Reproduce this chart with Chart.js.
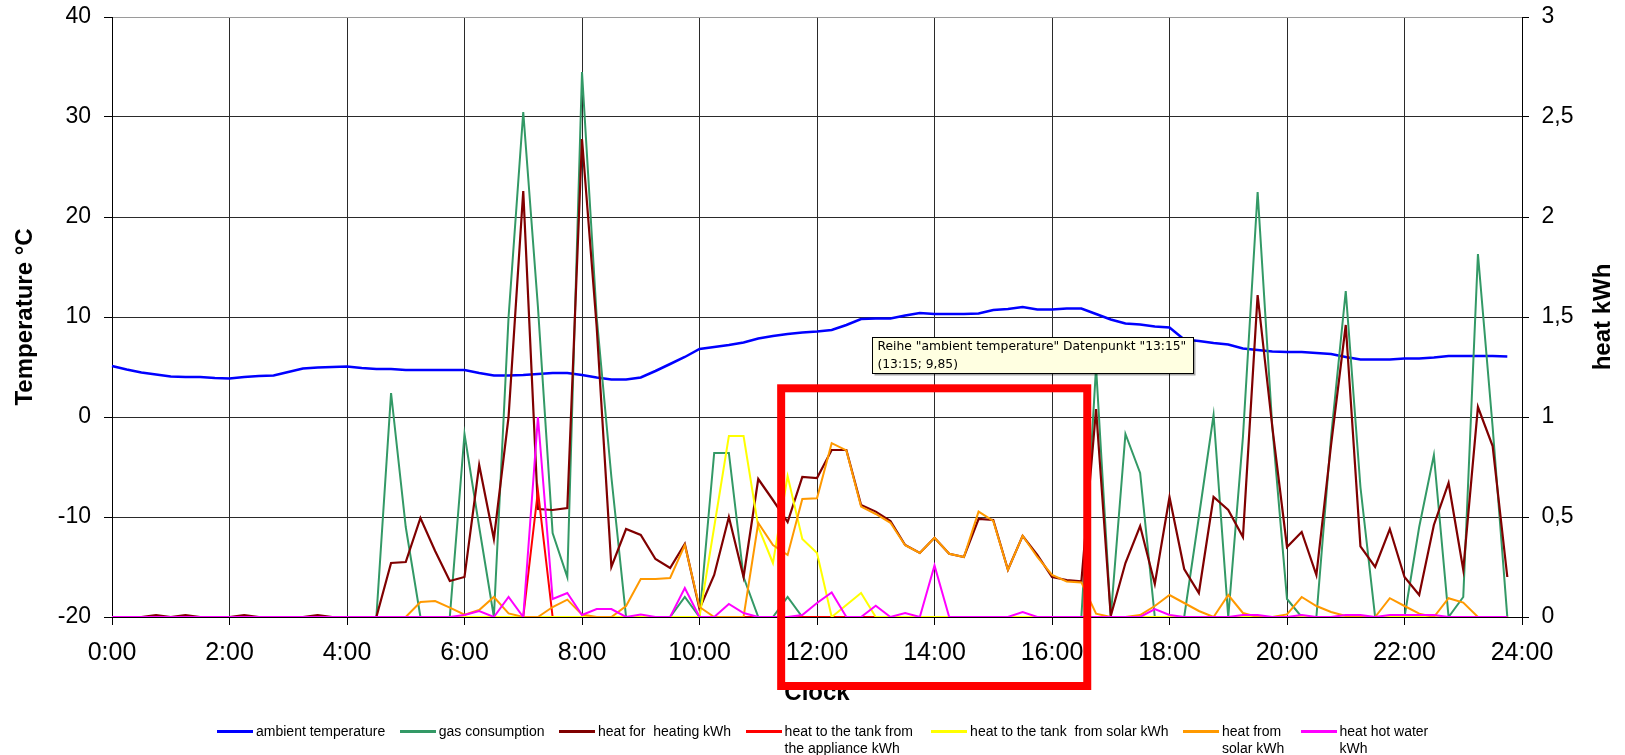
<!DOCTYPE html>
<html>
<head>
<meta charset="utf-8">
<script src="https://cdn.jsdelivr.net/npm/chart.js@4.4.1/dist/chart.umd.min.js"></script>
<style>
  html, body { margin: 0; padding: 0; background: #fff; }
  #wrap { position: relative; width: 1625px; height: 755px; overflow: hidden; background: #fff; }
  #c { position: absolute; left: 0; top: 0; width: 1625px; height: 755px; }
  #legend { position: absolute; left: 217px; top: 723px; display: flex; align-items: flex-start; gap: 14.5px;
            font: 14px/16.5px "Liberation Sans", Arial, sans-serif; color: #000; }
  .item { display: flex; align-items: flex-start; }
  .swatch { width: 36px; height: 3px; margin-top: 7px; margin-right: 3px; flex: none; }
  .txt { white-space: pre-wrap; }
</style>
</head>
<body>
<div id="wrap">
  <canvas id="c" width="1625" height="755"></canvas>
  <div id="legend"></div>
</div>
<script>
// ---------- categories & tick labels ----------
const timeLabels = [];
for (let h = 0; h <= 24; h++) {
  for (const m of ['00', '15', '30', '45']) {
    timeLabels.push(h + ':' + m);
    if (h === 24) break;
  }
}
const xTickLabels = ['0:00','2:00','4:00','6:00','8:00','10:00','12:00','14:00','16:00','18:00','20:00','22:00','24:00'];
const leftTicks  = [-20, -10, 0, 10, 20, 30, 40];
const rightTicks = [0, 0.5, 1, 1.5, 2, 2.5, 3];

const seriesNames = [
  'ambient temperature',
  'gas consumption',
  'heat for  heating kWh',
  'heat to the tank from the appliance kWh',
  'heat to the tank  from solar kWh',
  'heat from solar kWh',
  'heat hot water kWh'
];

// ---------- series values (15-minute steps, 0:00 .. 23:45) ----------
const ambientTemp = [
  5.1, 4.75, 4.45, 4.25, 4.05, 4.0, 4.0, 3.9,
  3.85, 4.0, 4.1, 4.15, 4.5, 4.85, 4.95, 5.0,
  5.05, 4.9, 4.8, 4.8, 4.7, 4.7, 4.7, 4.7,
  4.7, 4.4, 4.15, 4.15, 4.2, 4.3, 4.4, 4.4,
  4.2, 3.95, 3.75, 3.75, 3.95, 4.6, 5.3, 6.0,
  6.8, 7.0, 7.2, 7.45, 7.85, 8.1, 8.3, 8.45,
  8.55, 8.7, 9.2, 9.8, 9.85, 9.85, 10.15, 10.4,
  10.3, 10.3, 10.3, 10.35, 10.7, 10.8, 11.0, 10.75,
  10.75, 10.85, 10.85, 10.3, 9.75, 9.35, 9.25, 9.05,
  8.95, 7.75, 7.6, 7.4, 7.25, 6.85, 6.7, 6.55,
  6.5, 6.5, 6.4, 6.3, 6.0, 5.75, 5.75, 5.75,
  5.85, 5.85, 5.95, 6.1, 6.1, 6.1, 6.1, 6.05
];
const gasConsumption = [
  0, 0, 0, 0, 0, 0, 0, 0,
  0, 0, 0, 0, 0, 0, 0, 0,
  0, 0, 0, 1.12, 0.45, 0, 0, 0,
  0.915, 0.45, 0, 1.5, 2.525, 1.55, 0.42, 0.2,
  2.725, 1.5, 0.7, 0, 0, 0, 0, 0.1,
  0, 0.82, 0.82, 0.2, 0, 0, 0.1, 0,
  0, 0, 0, 0, 0, 0, 0, 0,
  0, 0, 0, 0, 0, 0, 0, 0,
  0, 0, 0, 1.25, 0, 0.915, 0.72, 0,
  0, 0, 0.5, 1.01, 0, 0.9, 2.125, 0.95,
  0.09, 0, 0, 0.9, 1.63, 0.65, 0, 0,
  0, 0.45, 0.81, 0, 0.1, 1.815, 0.95, 0
];
const heatingKwh = [
  0, 0, 0, 0.01, 0, 0.01, 0, 0,
  0, 0.01, 0, 0, 0, 0, 0.01, 0,
  0, 0, 0, 0.27, 0.275, 0.495, 0.33, 0.18,
  0.2, 0.76, 0.39, 1.0, 2.13, 0.54, 0.535, 0.545,
  2.39, 1.45, 0.25, 0.44, 0.41, 0.29, 0.245, 0.365,
  0.04, 0.21, 0.5, 0.2, 0.69, 0.585, 0.475, 0.7,
  0.695, 0.835, 0.835, 0.56, 0.527, 0.48, 0.36, 0.32,
  0.396, 0.316, 0.3, 0.49, 0.485, 0.236, 0.406, 0.31,
  0.2, 0.185, 0.178, 1.04, 0.005, 0.27, 0.455, 0.165,
  0.6, 0.24, 0.12, 0.6, 0.535, 0.4, 1.61, 0.95,
  0.35, 0.425, 0.21, 0.86, 1.46, 0.353, 0.25, 0.44,
  0.2, 0.11, 0.46, 0.67, 0.236, 1.05, 0.855, 0.2
];
const tankFromApplianceKwh = [
  0, 0, 0, 0, 0, 0, 0, 0,
  0, 0, 0, 0, 0, 0, 0, 0,
  0, 0, 0, 0, 0, 0, 0, 0,
  0, 0, 0, 0, 0, 0.63, 0, 0,
  0, 0, 0, 0, 0, 0, 0, 0,
  0, 0, 0, 0, 0, 0, 0, 0,
  0, 0, 0, 0, 0, 0, 0, 0,
  0, 0, 0, 0, 0, 0, 0, 0,
  0, 0, 0, 0, 0, 0, 0, 0,
  0, 0, 0, 0, 0, 0, 0, 0,
  0, 0, 0, 0, 0, 0, 0, 0,
  0, 0, 0, 0, 0, 0, 0, 0
];
const tankFromSolarKwh = [
  0, 0, 0, 0, 0, 0, 0, 0,
  0, 0, 0, 0, 0, 0, 0, 0,
  0, 0, 0, 0, 0, 0, 0, 0,
  0, 0, 0, 0, 0, 0, 0, 0,
  0, 0, 0, 0, 0, 0, 0, 0,
  0, 0.45, 0.905, 0.905, 0.45, 0.27, 0.705, 0.39,
  0.32, 0, 0.06, 0.12, 0, 0, 0, 0,
  0, 0, 0, 0, 0, 0, 0, 0,
  0, 0, 0, 0, 0, 0, 0, 0,
  0, 0, 0, 0, 0, 0, 0, 0,
  0, 0, 0, 0, 0, 0, 0, 0,
  0, 0, 0, 0, 0, 0, 0, 0
];
const solarKwh = [
  0, 0, 0, 0, 0, 0, 0, 0,
  0, 0, 0, 0, 0, 0, 0, 0,
  0, 0, 0, 0, 0, 0.075, 0.08, 0.047,
  0.012, 0.035, 0.1, 0.018, 0, 0, 0.05, 0.087,
  0.012, 0, 0, 0.055, 0.19, 0.19, 0.195, 0.36,
  0.05, 0, 0, 0, 0.47, 0.36, 0.31, 0.59,
  0.594, 0.869, 0.833, 0.552, 0.515, 0.471, 0.359, 0.32,
  0.396, 0.316, 0.3, 0.527, 0.48, 0.236, 0.406, 0.3,
  0.21, 0.178, 0.173, 0.017, 0, 0, 0.01, 0.055,
  0.11, 0.07, 0.03, 0, 0.11, 0.02, 0, 0,
  0.013, 0.1, 0.055, 0.025, 0.005, 0, 0, 0.094,
  0.055, 0.017, 0, 0.094, 0.072, 0, 0, 0
];
const hotWaterKwh = [
  0, 0, 0, 0, 0, 0, 0, 0,
  0, 0, 0, 0, 0, 0, 0, 0,
  0, 0, 0, 0, 0, 0, 0, 0,
  0.01, 0.03, 0, 0.1, 0, 1.0, 0.09, 0.12,
  0.01, 0.04, 0.04, 0, 0.013, 0, 0, 0.145,
  0, 0, 0.065, 0.02, 0, 0, 0, 0.01,
  0.07, 0.123, 0, 0, 0.056, 0, 0.02, 0,
  0.258, 0, 0, 0, 0, 0, 0.025, 0,
  0, 0, 0, 0, 0, 0, 0, 0.04,
  0.01, 0, 0, 0, 0, 0.01, 0.01, 0,
  0, 0.01, 0, 0, 0.01, 0.01, 0, 0.01,
  0.01, 0.01, 0.01, 0, 0, 0, 0, 0
];

// ---------- annotation (screenshot overlay) ----------
const tooltipPointIndex = 53;                       // "13:15"
const markedRange = { fromHour: 11.39, toHour: 16.6, topTemp: 2.87, bottomTemp: -26.9 };

// ---------- styles ----------
const seriesColors = ['#0000FF', '#339966', '#800000', '#FF0000', '#FFFF00', '#FF9900', '#FF00FF'];
const seriesAxes   = ['y', 'yR', 'yR', 'yR', 'yR', 'yR', 'yR'];
const seriesWidths = [2.5, 2, 2.2, 2, 2, 2, 2];
const seriesData   = [ambientTemp, gasConsumption, heatingKwh, tankFromApplianceKwh, tankFromSolarKwh, solarKwh, hotWaterKwh];
const legendTextWidths = [null, null, null, 132, null, 64, 93];

const FONT = '"Liberation Sans", Arial, sans-serif';
const fmtComma = v => String(v).replace('.', ',');

const datasets = seriesNames.map((name, i) => ({
  label: name,
  data: seriesData[i],
  yAxisID: seriesAxes[i],
  borderColor: seriesColors[i],
  backgroundColor: seriesColors[i],
  borderWidth: seriesWidths[i],
  pointRadius: 0,
  tension: 0,
  fill: false,
  order: seriesNames.length - i
}));

const overlayPlugin = {
  id: 'overlay',
  afterDraw(chart) {
    const ctx = chart.ctx;
    const area = chart.chartArea;
    const xS = chart.scales.x, yS = chart.scales.y, yR = chart.scales.yR;

    // right axis title (reads bottom-to-top)
    ctx.save();
    ctx.translate(yR.right - 22, (area.top + area.bottom) / 2);
    ctx.rotate(-Math.PI / 2);
    ctx.font = 'bold 24px ' + FONT;
    ctx.fillStyle = '#000';
    ctx.textAlign = 'center';
    ctx.textBaseline = 'middle';
    ctx.fillText('heat kWh', 0, 0);
    ctx.restore();

    // data-point tooltip box
    const el = chart.getDatasetMeta(0).data[tooltipPointIndex];
    const lab = timeLabels[tooltipPointIndex];
    const lines = [
      'Reihe "' + seriesNames[0] + '" Datenpunkt "' + lab + '"',
      '(' + lab + '; ' + fmtComma(ambientTemp[tooltipPointIndex]) + ')'
    ];
    ctx.save();
    ctx.font = '12.3px "DejaVu Sans", sans-serif';
    const w = Math.ceil(Math.max(...lines.map(l => ctx.measureText(l).width)) + 12);
    const bx = Math.round(el.x - 18) + 0.5, by = Math.round(el.y + 19) + 0.5, bh = 36;
    ctx.fillStyle = 'rgba(0,0,0,0.35)';
    ctx.fillRect(bx + 2, by + 2, w, bh);
    ctx.fillStyle = '#FFFFE1';
    ctx.fillRect(bx, by, w, bh);
    ctx.strokeStyle = '#000';
    ctx.lineWidth = 1;
    ctx.strokeRect(bx, by, w, bh);
    ctx.fillStyle = '#000';
    ctx.textAlign = 'left';
    ctx.textBaseline = 'middle';
    ctx.fillText(lines[0], bx + 5, by + 9.5);
    ctx.fillText(lines[1], bx + 5, by + 27);
    ctx.restore();

    // red marking rectangle
    const l = xS.getPixelForValue(markedRange.fromHour * 4);
    const r = xS.getPixelForValue(markedRange.toHour * 4);
    const t = yS.getPixelForValue(markedRange.topTemp);
    const b = yS.getPixelForValue(markedRange.bottomTemp);
    ctx.save();
    ctx.strokeStyle = '#FF0000';
    ctx.lineWidth = 8;
    ctx.lineJoin = 'miter';
    ctx.strokeRect(l, t, r - l, b - t);
    ctx.restore();
  }
};

const gridColor = '#2a2a2a';

new Chart(document.getElementById('c'), {
  type: 'line',
  data: { labels: timeLabels, datasets },
  options: {
    responsive: false,
    animation: false,
    events: [],
    devicePixelRatio: 1,
    layout: { padding: { top: 17, left: 0, right: 0, bottom: 0 } },
    plugins: { legend: { display: false }, tooltip: { enabled: false } },
    scales: {
      x: {
        type: 'category',
        offset: false,
        afterFit: s => { s.height = 138; },
        border: { display: true, color: '#000', width: 1 },
        grid: {
          drawOnChartArea: true,
          drawTicks: true,
          tickLength: 8,
          lineWidth: 1,
          color: c => xTickLabels.includes(timeLabels[c.index]) ? gridColor : 'rgba(0,0,0,0)',
          tickColor: c => xTickLabels.includes(timeLabels[c.index]) ? '#000' : 'rgba(0,0,0,0)'
        },
        ticks: {
          autoSkip: false,
          maxRotation: 0,
          minRotation: 0,
          padding: 13,
          color: '#000',
          font: { family: FONT, size: 25 },
          callback: function (value, index) {
            const lab = timeLabels[index];
            return xTickLabels.includes(lab) ? lab : '';
          }
        },
        title: {
          display: true, text: 'Clock', color: '#000',
          font: { family: FONT, size: 24, weight: 'bold' },
          padding: { top: 0, bottom: 47.6 }
        }
      },
      y: {
        position: 'left',
        min: leftTicks[0], max: leftTicks[leftTicks.length - 1],
        afterFit: s => { s.width = 112; s.paddingTop = 0; s.paddingBottom = 0; },
        afterBuildTicks: s => { s.ticks = leftTicks.map(v => ({ value: v })); },
        border: { display: true, color: '#000', width: 1 },
        grid: {
          lineWidth: 1,
          tickLength: 8,
          color: c => (c.tick && c.tick.value === 40) ? '#9a9a9a' : gridColor,
          tickColor: '#000'
        },
        ticks: {
          padding: 13, color: '#000',
          font: { family: FONT, size: 23 },
          callback: v => String(v)
        },
        title: {
          display: true, text: 'Temperature °C', color: '#000',
          font: { family: FONT, size: 24, weight: 'bold' },
          padding: { top: 10.6, bottom: 0 }
        }
      },
      yR: {
        position: 'right',
        min: rightTicks[0], max: rightTicks[rightTicks.length - 1],
        afterFit: s => { s.width = 103; s.paddingTop = 0; s.paddingBottom = 0; },
        afterBuildTicks: s => { s.ticks = rightTicks.map(v => ({ value: v })); },
        border: { display: true, color: '#000', width: 1 },
        grid: { drawOnChartArea: false, drawTicks: true, tickLength: 7, tickColor: '#000', color: '#000' },
        ticks: {
          padding: 12.5, color: '#000',
          font: { family: FONT, size: 23 },
          callback: v => fmtComma(v)
        },
        title: { display: false }
      }
    }
  },
  plugins: [overlayPlugin]
});

// ---------- HTML legend ----------
const legend = document.getElementById('legend');
seriesNames.forEach((name, i) => {
  const item = document.createElement('div');
  item.className = 'item';
  const sw = document.createElement('div');
  sw.className = 'swatch';
  sw.style.background = seriesColors[i];
  const tx = document.createElement('div');
  tx.className = 'txt';
  tx.textContent = name;
  if (legendTextWidths[i]) tx.style.width = legendTextWidths[i] + 'px';
  item.appendChild(sw);
  item.appendChild(tx);
  legend.appendChild(item);
});
</script>
</body>
</html>
